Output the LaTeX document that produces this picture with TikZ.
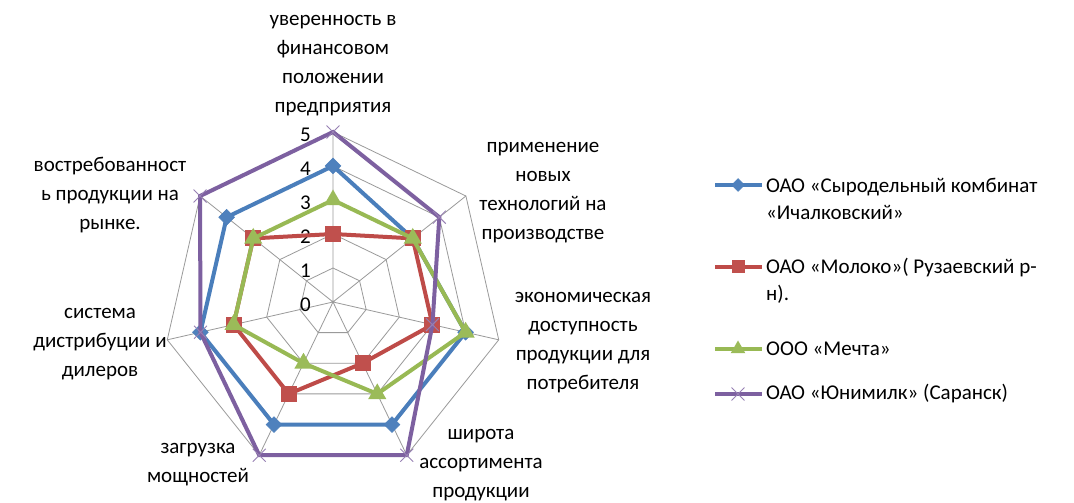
\documentclass[tikz,border=0pt]{standalone}
\usepackage{fontspec}
\setmainfont{Carlito}
\usepackage{tikz}
\usetikzlibrary{shapes.geometric, shapes.misc}

\definecolor{bluel}{HTML}{4A7EBB}
\definecolor{bluef}{HTML}{4F81BD}
\definecolor{redl}{HTML}{BE4B48}
\definecolor{redf}{HTML}{C0504D}
\definecolor{greenl}{HTML}{98B954}
\definecolor{greenf}{HTML}{9BBB59}
\definecolor{purpl}{HTML}{7D60A0}
\definecolor{gridc}{HTML}{9A9A9A}

\tikzset{
  gridline/.style={draw=gridc, line width=0.8pt},
  serie/.style={line width=4pt, line join=miter},
  keyline/.style={line width=3.5pt},
  bmark/.style={diamond, fill=bluef, draw=bluel, line width=0.5pt, minimum size=16pt, inner sep=0pt},
  rmark/.style={rectangle, fill=redf, minimum size=16pt, inner sep=0pt},
  gmark/.style={regular polygon, regular polygon sides=3, fill=greenf, minimum size=21pt, inner sep=0pt},
  pmark/.style={cross out, draw=purpl!80, line width=0.9pt, minimum size=12pt, inner sep=0pt},
}

\begin{document}
\begin{tikzpicture}[x=1pt, y=1pt]
\tikzstyle{every node} = [font=\fontsize{21}{29}\selectfont, inner sep=0pt]
\useasboundingbox[fill=white] (0,0) rectangle (1074,503);
\coordinate (c) at (333,201);

% grid
\begin{scope}[shift={(c)}]
\foreach \r in {34,68,102,136,170}
  \draw[gridline] (90:\r) -- (38.571:\r) -- (-12.857:\r) -- (-64.286:\r)
    -- (-115.714:\r) -- (-167.143:\r) -- (141.429:\r) -- cycle;
\coordinate (a1) at (90:170);
\coordinate (a2) at (38.571:170);
\coordinate (a3) at (-12.857:170);
\coordinate (a4) at (-64.286:170);
\coordinate (a5) at (-115.714:170);
\coordinate (a6) at (-167.143:170);
\coordinate (a7) at (141.429:170);
\draw[gridline] (c) -- (a1) (c) -- (a2) (c) -- (a3) (c) -- (a4)
  (c) -- (a5) (c) -- (a6) (c) -- (a7);

% values
\coordinate (b1) at (90:136);
\coordinate (b2) at (38.571:102);
\coordinate (b3) at (-12.857:136);
\coordinate (b4) at (-64.286:136);
\coordinate (b5) at (-115.714:136);
\coordinate (b6) at (-167.143:136);
\coordinate (b7) at (141.429:136);
\coordinate (r1) at (90:68);
\coordinate (r2) at (38.571:102);
\coordinate (r3) at (-12.857:102);
\coordinate (r4) at (-64.286:68);
\coordinate (r5) at (-115.714:102);
\coordinate (r6) at (-167.143:102);
\coordinate (r7) at (141.429:102);
\coordinate (g1) at (90:102);
\coordinate (g2) at (38.571:102);
\coordinate (g3) at (-12.857:136);
\coordinate (g4) at (-64.286:102);
\coordinate (g5) at (-115.714:68);
\coordinate (g6) at (-167.143:102);
\coordinate (g7) at (141.429:102);
\coordinate (p1) at (90:170);
\coordinate (p2) at (38.571:136);
\coordinate (p3) at (-12.857:102);
\coordinate (p4) at (-64.286:170);
\coordinate (p5) at (-115.714:170);
\coordinate (p6) at (-167.143:136);
\coordinate (p7) at (141.429:170);
\end{scope}

% scale
\node[anchor=east] (t0) at (311,198) {0};
\node[anchor=east] (t1) at (311,232) {1};
\node[anchor=east] (t2) at (311,266) {2};
\node[anchor=east] (t3) at (311,300) {3};
\node[anchor=east] (t4) at (311,334) {4};
\node[anchor=east] (t5) at (311,368) {5};

% series
\draw[serie, bluel] (b1) -- (b2) -- (b3) -- (b4) -- (b5) -- (b6) -- (b7) -- cycle;
\foreach \i in {1,...,7} \node[bmark] (mb\i) at (b\i) {};
\draw[serie, redl] (r1) -- (r2) -- (r3) -- (r4) -- (r5) -- (r6) -- (r7) -- cycle;
\foreach \i in {1,...,7} \node[rmark] (mr\i) at (r\i) {};
\draw[serie, greenl] (g1) -- (g2) -- (g3) -- (g4) -- (g5) -- (g6) -- (g7) -- cycle;
\foreach \i in {1,...,7} \node[gmark] (mg\i) at (g\i) {};
\draw[serie, purpl] (p1) -- (p2) -- (p3) -- (p4) -- (p5) -- (p6) -- (p7) -- cycle;
\foreach \i in {1,...,7} \node[pmark] (mp\i) at (p\i) {};

% axis labels
\node[align=center] (ax1) at (333,437) {уверенность в\\финансовом\\положении\\предприятия};
\node[align=center] (ax2) at (543,310) {применение\\новых\\технологий на\\производстве};
\node[align=center] (ax3) at (583,160) {экономическая\\доступность\\продукции для\\потребителя};
\node[align=center] (ax4) at (481,38) {широта\\ассортимента\\продукции};
\node[align=center] (ax5) at (198,38) {загрузка\\мощностей};
\node[align=center] (ax6) at (100,159) {система\\дистрибуции и\\дилеров};
\node[align=center] (ax7) at (110,308) {востребованност\\ь продукции на\\рынке.};

% legend
\coordinate (k1a) at (715,318); \coordinate (k1b) at (762,318);
\coordinate (k2a) at (715,236); \coordinate (k2b) at (762,236);
\coordinate (k3a) at (715,154); \coordinate (k3b) at (762,154);
\coordinate (k4a) at (715,109); \coordinate (k4b) at (762,109);
\draw[keyline, bluel] (k1a) -- (k1b);
\node[bmark, minimum size=13pt] (kb) at (738,318) {};
\draw[keyline, redl] (k2a) -- (k2b);
\node[rmark, minimum size=13pt] (kr) at (738,236) {};
\draw[keyline, greenl] (k3a) -- (k3b);
\node[gmark, minimum size=17pt] (kg) at (738,154) {};
\draw[keyline, purpl] (k4a) -- (k4b);
\node[pmark] (kp) at (738,109) {};
\tikzstyle{every node} = [font=\fontsize{21}{27}\selectfont, inner sep=0pt, anchor=west, align=left]
\node (key1) at (766,304.5) {ОАО «Сыродельный комбинат\\«Ичалковский»};
\node (key2) at (766,222.5) {ОАО «Молоко»( Рузаевский р-\\н).};
\node (key3) at (766,154) {ООО «Мечта»};
\node (key4) at (766,109) {ОАО «Юнимилк» (Саранск)};
\end{tikzpicture}
\end{document}
